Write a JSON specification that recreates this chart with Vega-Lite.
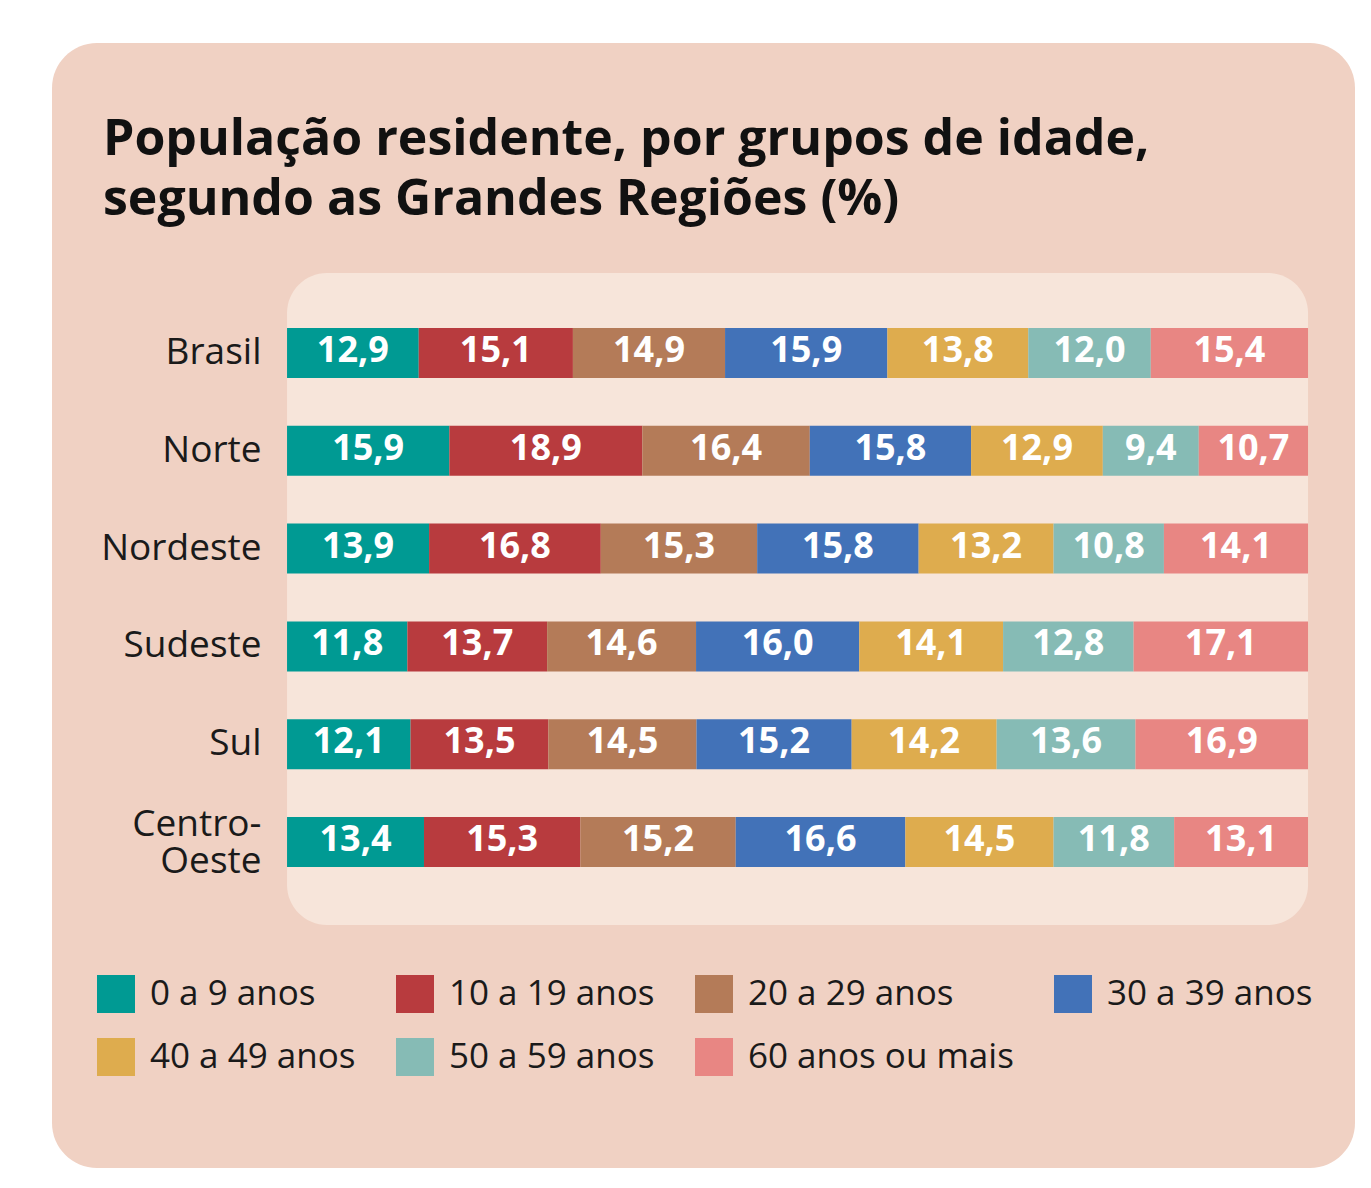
{
  "$schema": "https://vega.github.io/schema/vega-lite/v6.json",
  "width": 1303,
  "height": 1125,
  "autosize": {"type": "none"},
  "padding": {"left": 52, "top": 43, "right": 16, "bottom": 20},
  "background": "#ffffff",
  "view": {"fill": "#F0D1C3", "stroke": null, "cornerRadius": 45},
  "title": {
    "text": ["População residente, por grupos de idade,", "segundo as Grandes Regiões (%)"],
    "anchor": "start",
    "frame": "group",
    "orient": "top",
    "offset": -182,
    "dx": 51,
    "font": "Open Sans",
    "fontSize": 50,
    "fontWeight": "bold",
    "color": "#111111",
    "lineHeight": 60
  },
  "datasets": {
    "pop": [
      {"regiao": "Brasil", "grupo": "0 a 9 anos", "k": 1, "v": 12.9},
      {"regiao": "Brasil", "grupo": "10 a 19 anos", "k": 2, "v": 15.1},
      {"regiao": "Brasil", "grupo": "20 a 29 anos", "k": 3, "v": 14.9},
      {"regiao": "Brasil", "grupo": "30 a 39 anos", "k": 4, "v": 15.9},
      {"regiao": "Brasil", "grupo": "40 a 49 anos", "k": 5, "v": 13.8},
      {"regiao": "Brasil", "grupo": "50 a 59 anos", "k": 6, "v": 12.0},
      {"regiao": "Brasil", "grupo": "60 anos ou mais", "k": 7, "v": 15.4},
      {"regiao": "Norte", "grupo": "0 a 9 anos", "k": 1, "v": 15.9},
      {"regiao": "Norte", "grupo": "10 a 19 anos", "k": 2, "v": 18.9},
      {"regiao": "Norte", "grupo": "20 a 29 anos", "k": 3, "v": 16.4},
      {"regiao": "Norte", "grupo": "30 a 39 anos", "k": 4, "v": 15.8},
      {"regiao": "Norte", "grupo": "40 a 49 anos", "k": 5, "v": 12.9},
      {"regiao": "Norte", "grupo": "50 a 59 anos", "k": 6, "v": 9.4},
      {"regiao": "Norte", "grupo": "60 anos ou mais", "k": 7, "v": 10.7},
      {"regiao": "Nordeste", "grupo": "0 a 9 anos", "k": 1, "v": 13.9},
      {"regiao": "Nordeste", "grupo": "10 a 19 anos", "k": 2, "v": 16.8},
      {"regiao": "Nordeste", "grupo": "20 a 29 anos", "k": 3, "v": 15.3},
      {"regiao": "Nordeste", "grupo": "30 a 39 anos", "k": 4, "v": 15.8},
      {"regiao": "Nordeste", "grupo": "40 a 49 anos", "k": 5, "v": 13.2},
      {"regiao": "Nordeste", "grupo": "50 a 59 anos", "k": 6, "v": 10.8},
      {"regiao": "Nordeste", "grupo": "60 anos ou mais", "k": 7, "v": 14.1},
      {"regiao": "Sudeste", "grupo": "0 a 9 anos", "k": 1, "v": 11.8},
      {"regiao": "Sudeste", "grupo": "10 a 19 anos", "k": 2, "v": 13.7},
      {"regiao": "Sudeste", "grupo": "20 a 29 anos", "k": 3, "v": 14.6},
      {"regiao": "Sudeste", "grupo": "30 a 39 anos", "k": 4, "v": 16.0},
      {"regiao": "Sudeste", "grupo": "40 a 49 anos", "k": 5, "v": 14.1},
      {"regiao": "Sudeste", "grupo": "50 a 59 anos", "k": 6, "v": 12.8},
      {"regiao": "Sudeste", "grupo": "60 anos ou mais", "k": 7, "v": 17.1},
      {"regiao": "Sul", "grupo": "0 a 9 anos", "k": 1, "v": 12.1},
      {"regiao": "Sul", "grupo": "10 a 19 anos", "k": 2, "v": 13.5},
      {"regiao": "Sul", "grupo": "20 a 29 anos", "k": 3, "v": 14.5},
      {"regiao": "Sul", "grupo": "30 a 39 anos", "k": 4, "v": 15.2},
      {"regiao": "Sul", "grupo": "40 a 49 anos", "k": 5, "v": 14.2},
      {"regiao": "Sul", "grupo": "50 a 59 anos", "k": 6, "v": 13.6},
      {"regiao": "Sul", "grupo": "60 anos ou mais", "k": 7, "v": 16.9},
      {"regiao": "Centro-Oeste", "grupo": "0 a 9 anos", "k": 1, "v": 13.4},
      {"regiao": "Centro-Oeste", "grupo": "10 a 19 anos", "k": 2, "v": 15.3},
      {"regiao": "Centro-Oeste", "grupo": "20 a 29 anos", "k": 3, "v": 15.2},
      {"regiao": "Centro-Oeste", "grupo": "30 a 39 anos", "k": 4, "v": 16.6},
      {"regiao": "Centro-Oeste", "grupo": "40 a 49 anos", "k": 5, "v": 14.5},
      {"regiao": "Centro-Oeste", "grupo": "50 a 59 anos", "k": 6, "v": 11.8},
      {"regiao": "Centro-Oeste", "grupo": "60 anos ou mais", "k": 7, "v": 13.1}
    ],
    "painel": [{"p": "painel"}]
  },
  "layer": [
    {
      "data": {"name": "painel"},
      "mark": {"type": "rect", "cornerRadius": 40, "color": "#F7E5DA"},
      "encoding": {
        "y": {"field": "p", "type": "nominal", "axis": null,
              "scale": {"paddingInner": 0, "paddingOuter": 0.3627, "align": 0.4863}},
        "x": {"datum": 0, "type": "quantitative",
              "scale": {"domain": [-0.2302, 1.046], "nice": false, "zero": false}, "axis": null},
        "x2": {"datum": 1}
      }
    },
    {
      "data": {"name": "pop"},
      "encoding": {
        "y": {"field": "regiao", "type": "nominal",
              "sort": ["Brasil", "Norte", "Nordeste", "Sudeste", "Sul", "Centro-Oeste"],
              "scale": {"range": [285, 824], "paddingInner": 0.4888, "paddingOuter": 0},
              "axis": {"title": null, "domain": false, "ticks": false, "labelPadding": 0, "offset": -209,
                       "labelFont": "Open Sans", "labelFontSize": 37, "labelColor": "#1a1a1a",
                       "labelLineHeight": 37, "labelLimit": 400,
                       "labelExpr": "datum.value == 'Centro-Oeste' ? ['Centro-', 'Oeste'] : datum.label",
                       "labelOffset": {"condition": {"test": "datum.value == 'Centro-Oeste'", "value": -17}, "value": 0}}}
      },
      "layer": [
        {
          "mark": {"type": "bar"},
          "encoding": {
            "x": {"field": "v", "type": "quantitative", "stack": "normalize",
                  "scale": {"domain": [-0.2302, 1.046], "nice": false, "zero": false}, "axis": null},
            "order": {"field": "k", "type": "quantitative"},
            "color": {"field": "grupo", "type": "nominal",
                      "scale": {"domain": ["0 a 9 anos", "10 a 19 anos", "20 a 29 anos", "30 a 39 anos", "40 a 49 anos", "50 a 59 anos", "60 anos ou mais"],
                                "range": ["#009A93", "#B83B3E", "#B47B58", "#4272B8", "#DEAC4E", "#86BBB5", "#E88683"]},
                      "legend": {"orient": "none", "legendX": 45, "legendY": 932, "direction": "horizontal", "columns": 4,
                                 "gridAlign": "each",
                                 "title": null, "symbolType": "square", "symbolSize": 1444, "symbolStrokeWidth": 0,
                                 "symbolOpacity": 1, "labelFont": "Open Sans", "labelFontSize": 35, "labelColor": "#1a1a1a",
                                 "labelOffset": 15, "rowPadding": 25, "columnPadding": 40, "labelLimit": 400, "padding": 0}}
          }
        },
        {
          "mark": {"type": "text", "font": "Open Sans", "fontSize": 36, "fontWeight": "bold", "color": "#ffffff", "baseline": "middle", "dy": -2},
          "encoding": {
            "x": {"field": "v", "type": "quantitative", "stack": "normalize", "bandPosition": 0.5},
            "order": {"field": "k", "type": "quantitative"},
            "detail": {"field": "grupo"},
            "text": {"field": "v", "type": "quantitative", "format": ".1f"}
          }
        }
      ]
    }
  ],
  "resolve": {"scale": {"y": "independent"}},
  "config": {
    "locale": {"number": {"decimal": ",", "thousands": ".", "grouping": [3], "currency": ["R$ ", ""]}}
  }
}
